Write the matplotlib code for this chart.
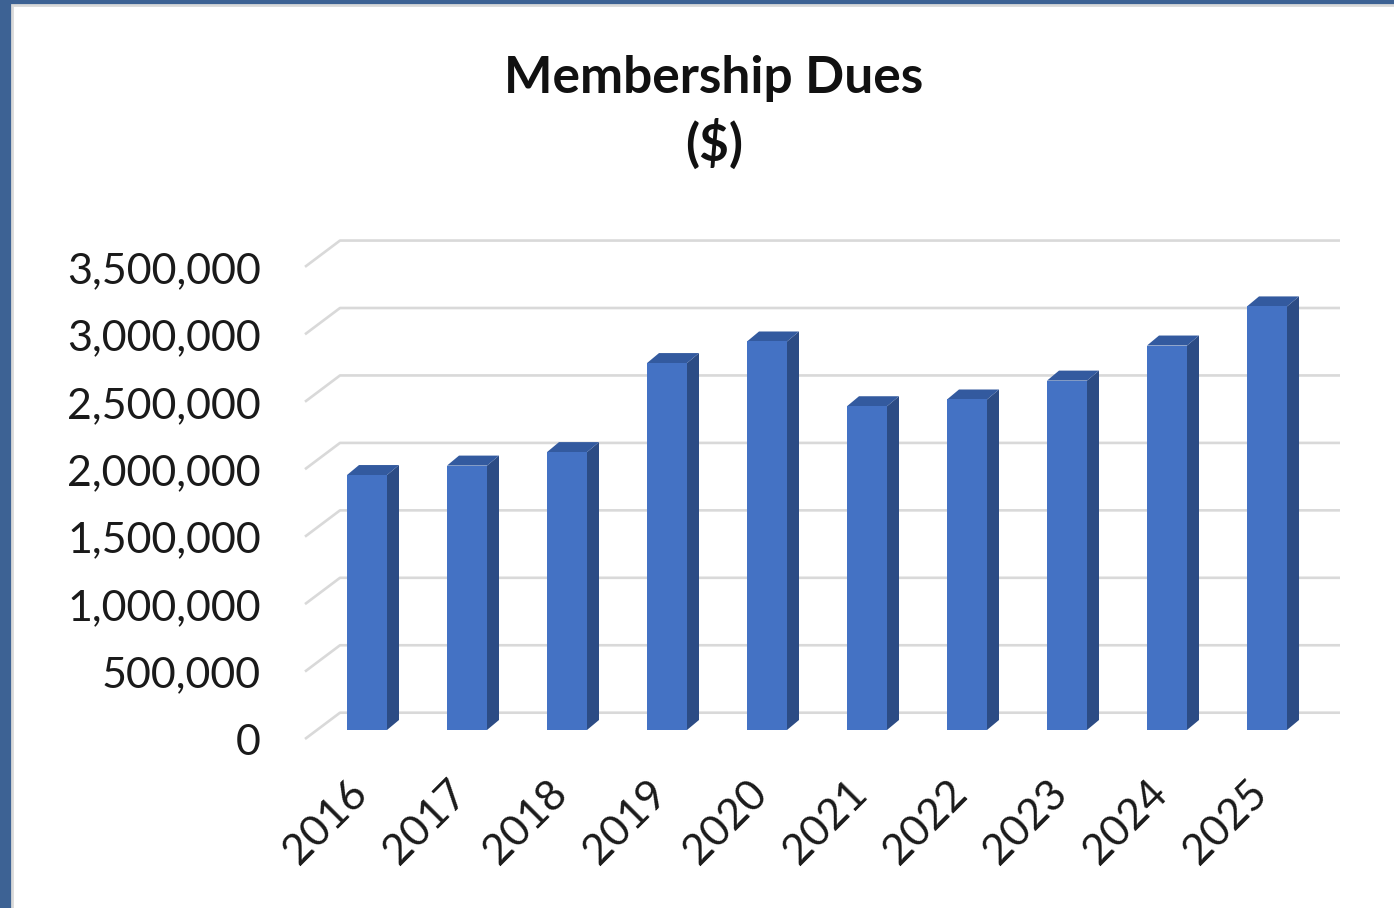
import numpy as np
import matplotlib.pyplot as plt
from matplotlib.patches import Polygon, Rectangle

# data
years = ['2016', '2017', '2018', '2019', '2020', '2021', '2022', '2023', '2024', '2025']
dues = [1890000, 1960000, 2060000, 2720000, 2880000, 2400000, 2450000, 2590000, 2850000, 3140000]
yticks = [0, 500000, 1000000, 1500000, 2000000, 2500000, 3000000, 3500000]

plt.rcParams['font.family'] = ['Lato', 'DejaVu Sans']

W, H = 1394, 908
fig = plt.figure(figsize=(W / 100, H / 100), dpi=100)
fig.patch.set_facecolor('#3D6294')

# white chart panel inside the blue frame
fig.patches.append(Rectangle((12 / W, -0.05), 1, (H - 5) / H + 0.05, transform=fig.transFigure,
                             facecolor='white', edgecolor='#D9D9D9', lw=2, zorder=-5))

# one data unit on x = one category = 100 px; value 0 sits 730 px from the top
x0_px, step_px, zero_px, px_per_m = 367, 100, 730, 134.9

def dx(px):
    return px / step_px

def dy(px):
    return px / px_per_m * 1e6

ax = fig.add_axes([0, 0, 1, 1])
ax.set_xlim(-x0_px / step_px, (W - x0_px) / step_px)
ax.set_ylim(dy(zero_px - H), dy(zero_px))
ax.axis('off')
ax.patch.set_alpha(0)

x = np.arange(len(years))
n = len(years)

# depth offsets (oblique 3d look)
front_dx, front_dy = -12, -9
back_dx, back_dy = 23, 17.3
bar_dx, bar_dy = 12, 10
bw = 0.4

# gridlines: short slanted floor piece, then along back wall
for v in yticks:
    xs = [-0.5 + dx(front_dx), -0.5 + dx(back_dx), n - 0.5 + dx(back_dx)]
    ys = [v + dy(front_dy), v + dy(back_dy), v + dy(back_dy)]
    ax.plot(xs, ys, color='#D9D9D9', lw=1.9, zorder=1, solid_capstyle='butt')
    ax.text(-0.5 + dx(front_dx) - dx(44), v + dy(front_dy - 4), f'{v:,}',
            ha='right', va='center', fontsize=31, color='#1a1a1a')

# bars: front face + side + top
ax.bar(x, dues, width=bw, color='#4472C4', zorder=4)
for xi, v in zip(x, dues):
    r = xi + bw / 2
    l = xi - bw / 2
    side = [(r, 0), (r + dx(bar_dx), dy(bar_dy)), (r + dx(bar_dx), v + dy(bar_dy)), (r, v)]
    top = [(l, v), (r, v), (r + dx(bar_dx), v + dy(bar_dy)), (l + dx(bar_dx), v + dy(bar_dy))]
    ax.add_patch(Polygon(side, closed=True, facecolor='#2C4C85', edgecolor='none', zorder=3))
    ax.add_patch(Polygon(top, closed=True, facecolor='#335A9F', edgecolor='none', zorder=3))

# category labels, rotated
for xi, lab in zip(x, years):
    ax.text(xi + dx(front_dx + 6), -dy(57), lab, rotation=45, rotation_mode='anchor',
            ha='right', va='center', fontsize=31, color='#1a1a1a')

fig.text(714 / W, 1 - 93 / H, 'Membership Dues', ha='center', va='baseline',
         fontsize=37, fontweight='bold', color='#111111')
fig.text(714 / W, 1 - 161 / H, '($)', ha='center', va='baseline',
         fontsize=37, fontweight='bold', color='#111111')

plt.savefig('out.png', dpi=100)
